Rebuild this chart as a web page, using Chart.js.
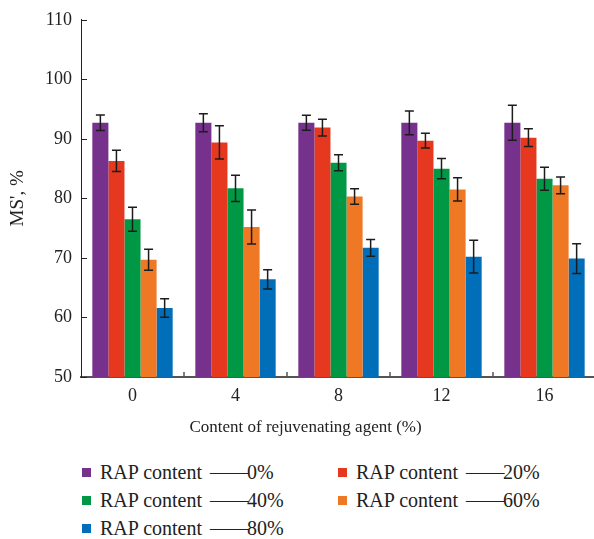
<!DOCTYPE html>
<html>
<head>
<meta charset="utf-8">
<script src="https://cdn.jsdelivr.net/npm/chart.js@4.4.0/dist/chart.umd.min.js"></script>
<style>
  html, body { margin: 0; padding: 0; background: #fff; overflow: hidden; }
  #wrap { position: relative; width: 596px; height: 450px; }
  #legend { position: absolute; left: 0; top: 458px; width: 594px; font-family: "Liberation Serif", "Times New Roman", serif; font-size: 20px; color: #222; }
  .item { position: absolute; display: flex; align-items: center; height: 28px; white-space: nowrap; }
  .sw { width: 9px; height: 9px; margin-right: 9px; flex: none; }
  .dash { margin-left: 8px; letter-spacing: -1.5px; }
</style>
</head>
<body>
<div id="wrap"><canvas id="c"></canvas></div>
<div id="legend"></div>
<script>
// Rejuvenating agent dosage (%) on the x axis
const agentContent = ['0', '4', '8', '12', '16'];
const xTitle = 'Content of rejuvenating agent (%)';

// Series names and colours
const seriesLabels = ['RAP content ——0%', 'RAP content ——20%', 'RAP content ——40%', 'RAP content ——60%', 'RAP content ——80%'];
const seriesColors = ['#75318B', '#E5381E', '#009844', '#EE7823', '#006EB8'];

// MS' (%) means for each RAP content
const ms0  = [92.7, 92.7, 92.7, 92.7, 92.7];
const ms20 = [86.3, 89.4, 91.9, 89.7, 90.2];
const ms40 = [76.5, 81.7, 86.0, 85.0, 83.3];
const ms60 = [69.7, 75.2, 80.3, 81.5, 82.2];
const ms80 = [61.6, 66.4, 71.7, 70.2, 69.9];

// Standard deviations (error bar half-lengths)
const sd0  = [1.3, 1.5, 1.25, 2.0, 2.95];
const sd20 = [1.8, 2.8, 1.4, 1.25, 1.5];
const sd40 = [2.0, 2.2, 1.35, 1.7, 1.95];
const sd60 = [1.75, 2.85, 1.3, 1.95, 1.4];
const sd80 = [1.55, 1.6, 1.4, 2.75, 2.5];

// Y axis range and tick step
const yMin = 50, yMax = 110, yStep = 10;

const seriesValues = [ms0, ms20, ms40, ms60, ms80];
const seriesErrors = [sd0, sd20, sd40, sd60, sd80];

const FONT = '"Liberation Serif", "Times New Roman", serif';

// Error bars drawn from each bar's value +/- its deviation
const errorBars = {
  id: 'errorBars',
  afterDatasetsDraw(chart) {
    const ctx = chart.ctx;
    const y = chart.scales.y;
    ctx.save();
    ctx.strokeStyle = '#1c1c1c';
    ctx.lineWidth = 1.5;
    chart.data.datasets.forEach((ds, di) => {
      const meta = chart.getDatasetMeta(di);
      meta.data.forEach((bar, i) => {
        const v = ds.data[i], e = ds.errors[i];
        const top = y.getPixelForValue(v + e);
        const bot = y.getPixelForValue(v - e);
        const cap = 4.5;
        ctx.beginPath();
        ctx.moveTo(bar.x, top); ctx.lineTo(bar.x, bot);
        ctx.moveTo(bar.x - cap, top); ctx.lineTo(bar.x + cap, top);
        ctx.moveTo(bar.x - cap, bot); ctx.lineTo(bar.x + cap, bot);
        ctx.stroke();
      });
    });
    ctx.restore();
  }
};

// Short inward tick marks on both axes, plus the x-axis caption
const axisDecor = {
  id: 'axisDecor',
  afterDraw(chart) {
    const ctx = chart.ctx;
    const { x, y } = chart.scales;
    const area = chart.chartArea;
    ctx.save();
    ctx.strokeStyle = '#222';
    ctx.lineWidth = 1;
    ctx.beginPath();
    y.ticks.forEach(t => {
      const py = Math.round(y.getPixelForValue(t.value)) + 0.5;
      ctx.moveTo(area.left, py); ctx.lineTo(area.left + 6, py);
    });
    ctx.stroke();
    ctx.strokeStyle = '#555';
    ctx.lineWidth = 1.5;
    ctx.beginPath();
    for (let i = 1; i < agentContent.length; i++) {
      const px = x.getPixelForValue(i - 0.5);
      ctx.moveTo(px, area.bottom); ctx.lineTo(px, area.bottom - 5);
    }
    ctx.stroke();
    // caption sits a little left of the plot centre
    ctx.fillStyle = '#222';
    ctx.font = '17px ' + FONT;
    ctx.textAlign = 'center';
    ctx.textBaseline = 'middle';
    ctx.fillText(xTitle, x.getPixelForValue(1.68), area.bottom + 51);
    ctx.restore();
  }
};

const chart = new Chart(document.getElementById('c'), {
  type: 'bar',
  data: {
    labels: agentContent,
    datasets: seriesLabels.map((label, i) => ({
      label,
      data: seriesValues[i],
      errors: seriesErrors[i],
      backgroundColor: seriesColors[i],
      borderWidth: 0,
      barPercentage: 1,
      categoryPercentage: 0.78
    }))
  },
  options: {
    responsive: true,
    maintainAspectRatio: false,
    animation: false,
    layout: { padding: { top: 17, right: 0, bottom: 0, left: 0 } },
    plugins: { legend: { display: false }, tooltip: { enabled: false } },
    scales: {
      x: {
        grid: { display: false, drawTicks: false },
        border: { display: true, color: '#555', width: 2 },
        ticks: { color: '#222', font: { family: FONT, size: 18 }, padding: 8 },
        afterFit(s) { s.height = 73; }
      },
      y: {
        min: yMin, max: yMax,
        grid: { display: false, drawTicks: false },
        border: { display: true, color: '#222', width: 1 },
        ticks: { stepSize: yStep, color: '#222', font: { family: FONT, size: 18 }, padding: 9 },
        title: { display: true, text: "MS', %", color: '#222', font: { family: FONT, size: 19 }, padding: { top: 7, bottom: 0 } },
        afterFit(s) { s.width = 81; }
      }
    }
  },
  plugins: [errorBars, axisDecor]
});

// Two-column legend built from the chart's datasets
const legend = document.getElementById('legend');
const colLeft = [82, 338];
chart.data.datasets.forEach((ds, i) => {
  const item = document.createElement('div');
  item.className = 'item';
  item.style.left = colLeft[i % 2] + 'px';
  item.style.top = (Math.floor(i / 2) * 28) + 'px';
  const sw = document.createElement('span');
  sw.className = 'sw';
  sw.style.background = ds.backgroundColor;
  item.appendChild(sw);
  // label split so the long dash can be spaced on its own
  const parts = ds.label.split('——');
  const head = document.createElement('span');
  head.textContent = parts[0].trimEnd();
  const dash = document.createElement('span');
  dash.className = 'dash';
  dash.textContent = ' ——';
  const tail = document.createElement('span');
  tail.textContent = parts[1];
  item.appendChild(head); item.appendChild(dash); item.appendChild(tail);
  legend.appendChild(item);
});
</script>
</body>
</html>
